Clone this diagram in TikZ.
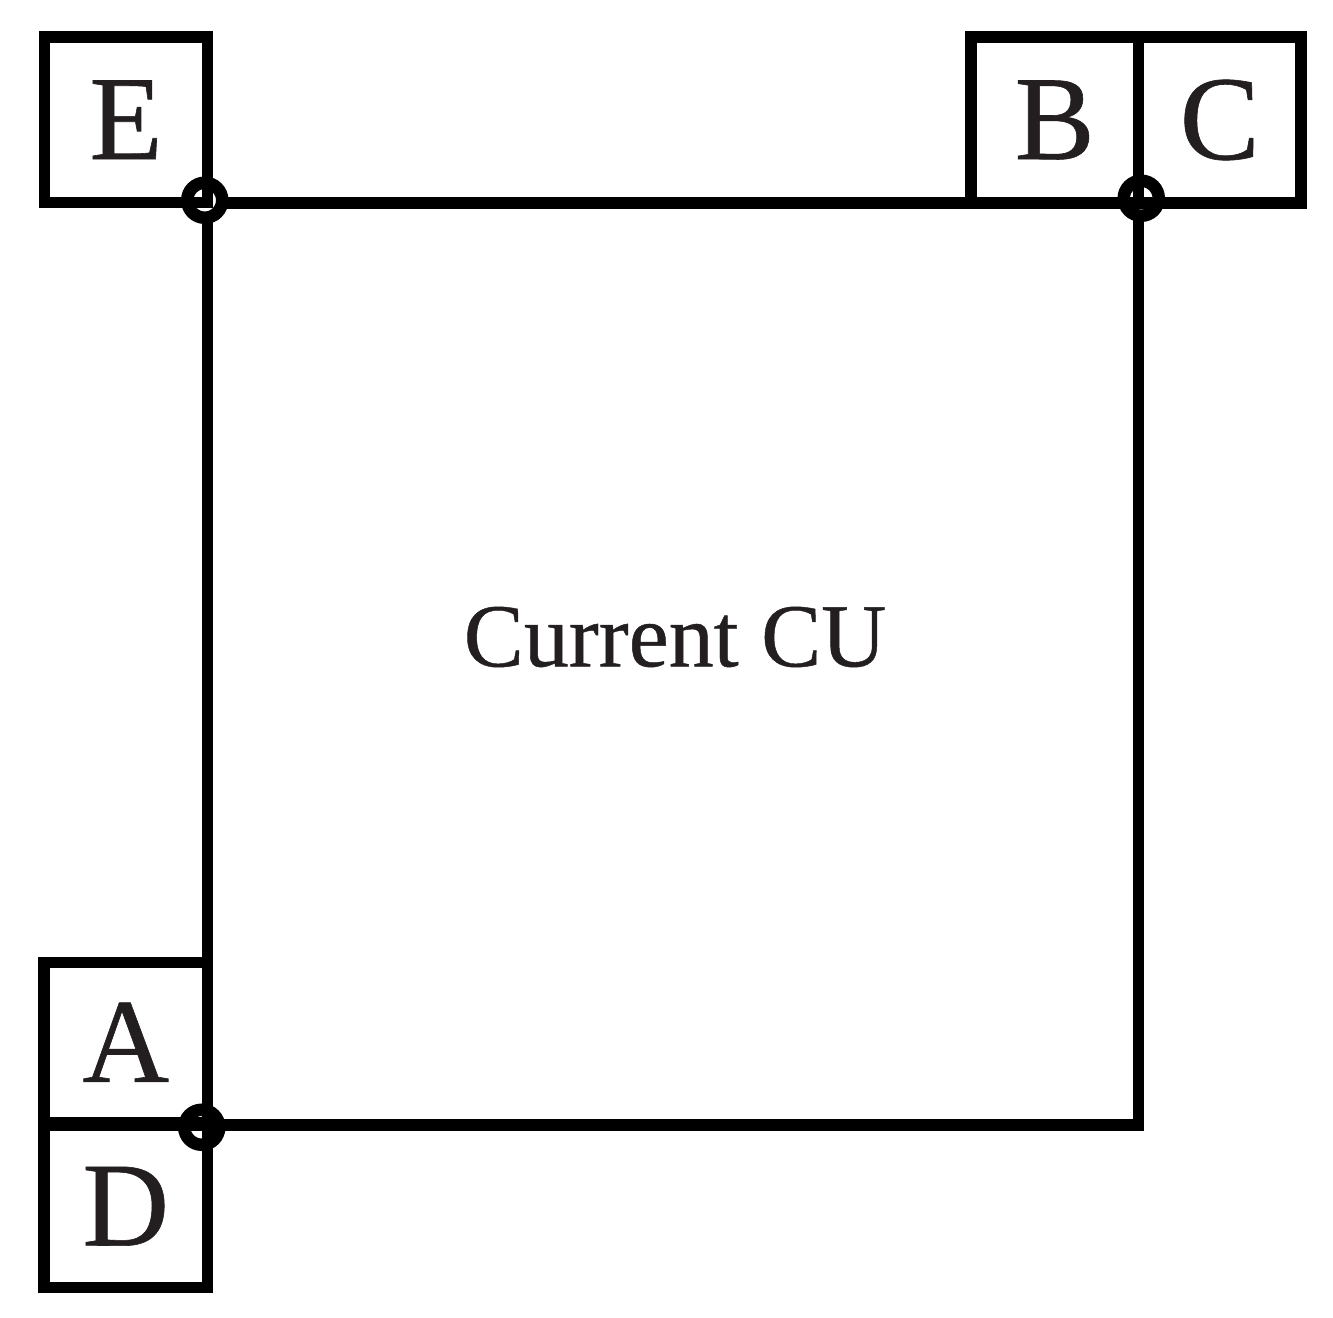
\documentclass[tikz,border=0pt]{standalone}
\usepackage{fontspec}
\setmainfont{Liberation Serif}[FakeBold=0.5]
\definecolor{txt}{HTML}{231F20}
\begin{document}
\begin{tikzpicture}[x=0.5pt,y=-0.5pt,line width=5.75pt,
  cell/.style={draw, rectangle, inner sep=0pt, text=txt, font=\fontsize{60}{60}\selectfont},
  junction/.style={draw, fill=white, line width=6.25pt},
  mainsq/.style={draw, rectangle, inner sep=0pt}]
\useasboundingbox (0,0) rectangle (1333,1317);
\node[mainsq, minimum width=465.5pt, minimum height=461pt] (cu) at (673,664) {};
\node[font=\fontsize{45}{45}\selectfont, text=txt] (lbl) at (675,637) {Current CU};
\coordinate (j1) at ([xshift=1.5pt,yshift=-1.5pt]cu.north west);
\coordinate (j2) at ([xshift=-1.5pt,yshift=-0.5pt]cu.north east);
\coordinate (j3) at ([yshift=1.75pt]cu.south west);
\foreach \j in {j1,j2,j3} \draw[junction] (\j) circle[radius=8.75pt];
\node[cell, minimum width=81.5pt, minimum height=82.75pt] (E) at (126,119.75) {E};
\node[cell, minimum width=83.75pt, minimum height=83pt] (B) at (1054.75,120) {B};
\node[cell, minimum width=81.25pt, minimum height=83pt] (C) at (1219.75,120) {C};
\node[cell, minimum width=81.75pt, minimum height=80pt] (A) at (125.75,1042.25) {A};
\node[cell, minimum width=81.75pt, minimum height=81.25pt] (D) at (125.75,1206.25) {D};
\end{tikzpicture}
\end{document}
